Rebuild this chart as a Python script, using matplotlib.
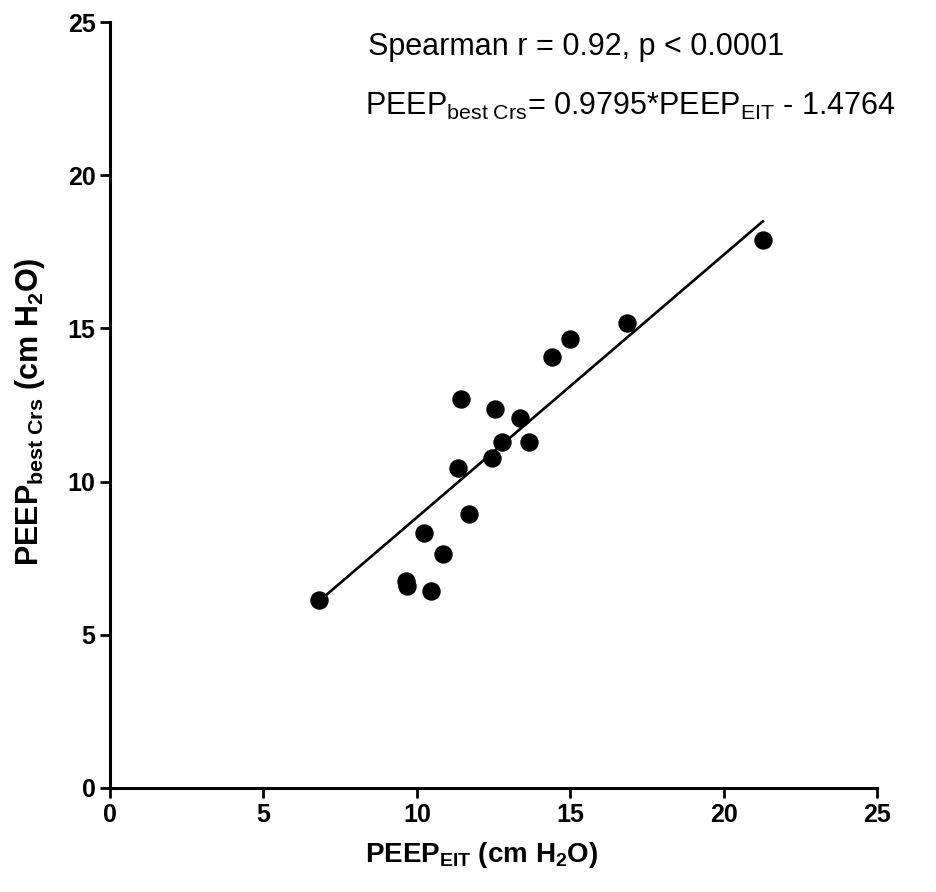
import numpy as np
import matplotlib
matplotlib.use("Agg")
import matplotlib.pyplot as plt

plt.rcParams['font.family'] = ['Liberation Sans', 'DejaVu Sans']
plt.rcParams['mathtext.fontset'] = 'custom'
plt.rcParams['mathtext.rm'] = 'Liberation Sans'
plt.rcParams['mathtext.bf'] = 'Liberation Sans:bold'
plt.rcParams['mathtext.it'] = 'Liberation Sans:italic'

# PEEP values (cm H2O)
peep_eit = [6.81, 9.65, 9.68, 10.46, 10.23, 10.85, 11.70, 11.34, 11.44,
            12.45, 12.78, 13.66, 12.55, 13.36, 14.41, 14.99, 16.85, 21.28]
peep_best_crs = [6.14, 6.76, 6.59, 6.43, 8.32, 7.64, 8.94, 10.44, 12.70,
                 10.77, 11.29, 11.29, 12.37, 12.08, 14.07, 14.65, 15.18, 17.89]

# fitted line as drawn in the figure
fit_slope = 0.857
fit_intercept = 0.26

x_ticks = [0, 5, 10, 15, 20, 25]
y_ticks = [0, 5, 10, 15, 20, 25]

fig = plt.figure(figsize=(9.37, 8.92), dpi=100)
ax = fig.add_axes([0.1174, 0.1166, 0.8186, 0.8587])

ax.scatter(peep_eit, peep_best_crs, s=150, color='black', zorder=3)

xl = np.array([min(peep_eit), max(peep_eit)])
ax.plot(xl, fit_slope * xl + fit_intercept, color='black', lw=1.9)

ax.set_xlim(0, 25)
ax.set_ylim(0, 25)
ax.set_xticks(x_ticks)
ax.set_yticks(y_ticks)
for s in ['top', 'right']:
    ax.spines[s].set_visible(False)
for s in ['left', 'bottom']:
    ax.spines[s].set_linewidth(2.2)
ax.tick_params(axis='both', width=2, length=7, labelsize=18, direction='out')
for lab in ax.get_xticklabels() + ax.get_yticklabels():
    lab.set_fontweight('bold')

ax.set_xlabel(r'PEEP$_{\mathbf{EIT}}$ (cm H$_{\mathbf{2}}$O)', fontsize=20,
              fontweight='bold', va='center')
ax.set_ylabel(r'PEEP$_{\mathbf{best\ Crs}}$ (cm H$_{\mathbf{2}}$O)', fontsize=22,
              fontweight='bold', va='center')
ax.xaxis.set_label_coords(0.485, -0.0875)
ax.yaxis.set_label_coords(-0.104, 0.491)

ax.text(8.4, 23.92, 'Spearman r = 0.92, p < 0.0001', fontsize=22, va='baseline')
ax.text(8.3, 21.96, r'PEEP$_{\rm best\ Crs}$= 0.9795*PEEP$_{\rm EIT}$ - 1.4764',
        fontsize=22, va='baseline')

fig.savefig('out.png', dpi=100)
